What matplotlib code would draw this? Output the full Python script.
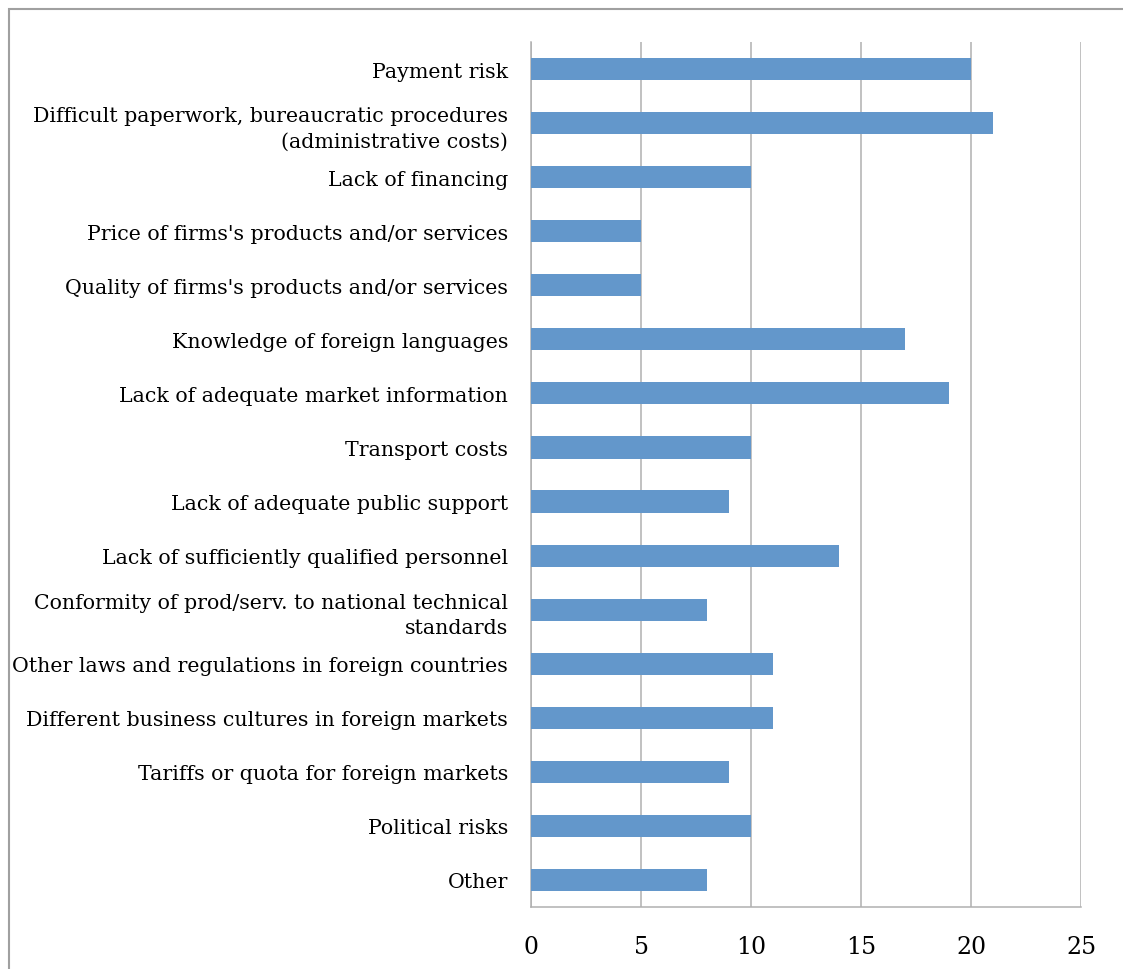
import matplotlib
matplotlib.use("Agg")
import matplotlib.pyplot as plt
from matplotlib.patches import Rectangle

categories = [
    "Payment risk",
    "Difficult paperwork, bureaucratic procedures\n(administrative costs)",
    "Lack of financing",
    "Price of firms's products and/or services",
    "Quality of firms's products and/or services",
    "Knowledge of foreign languages",
    "Lack of adequate market information",
    "Transport costs",
    "Lack of adequate public support",
    "Lack of sufficiently qualified personnel",
    "Conformity of prod/serv. to national technical\nstandards",
    "Other laws and regulations in foreign countries",
    "Different business cultures in foreign markets",
    "Tariffs or quota for foreign markets",
    "Political risks",
    "Other",
]
values = [20, 21, 10, 5, 5, 17, 19, 10, 9, 14, 8, 11, 11, 9, 10, 8]
xticks = [0, 5, 10, 15, 20, 25]

plt.rcParams['font.family'] = ['DejaVu Serif']

W, H = 1123, 970
fig = plt.figure(figsize=(W / 100, H / 100), dpi=100)
ax = fig.add_axes([531 / W, 1 - 908 / H, (1081 - 531) / W, (908 - 43) / H])

# outer chart frame
fig.patches.append(Rectangle((8.5 / W, -0.1), 1.2, 1 - 9.5 / H + 0.1,
                             transform=fig.transFigure, fill=False,
                             edgecolor='#a0a0a0', linewidth=1.5))

pos = list(range(len(categories)))
ax.barh(pos, values, height=0.41, color='#6397cb', zorder=3)

ax.set_xlim(0, 25)
ax.set_ylim(len(categories) - 0.5, -0.5)
ax.set_xticks(xticks)
ax.set_xticklabels([str(t) for t in xticks], fontsize=17)
ax.set_yticks(pos)
ax.set_yticklabels(categories, fontsize=14.8, linespacing=1.45)
for lbl in ax.get_yticklabels():
    lbl.set_horizontalalignment('right')
    lbl.set_multialignment('right')

ax.tick_params(axis='both', length=0)
ax.tick_params(axis='y', pad=16.5)
ax.tick_params(axis='x', pad=20)
ax.grid(axis='x', color='#b0b0b0', linewidth=1.1, zorder=0)

for side in ['top', 'right']:
    ax.spines[side].set_visible(False)
for side in ['left', 'bottom']:
    ax.spines[side].set_color('#b0b0b0')
    ax.spines[side].set_linewidth(1.1)

fig.savefig("out.png", dpi=100)
